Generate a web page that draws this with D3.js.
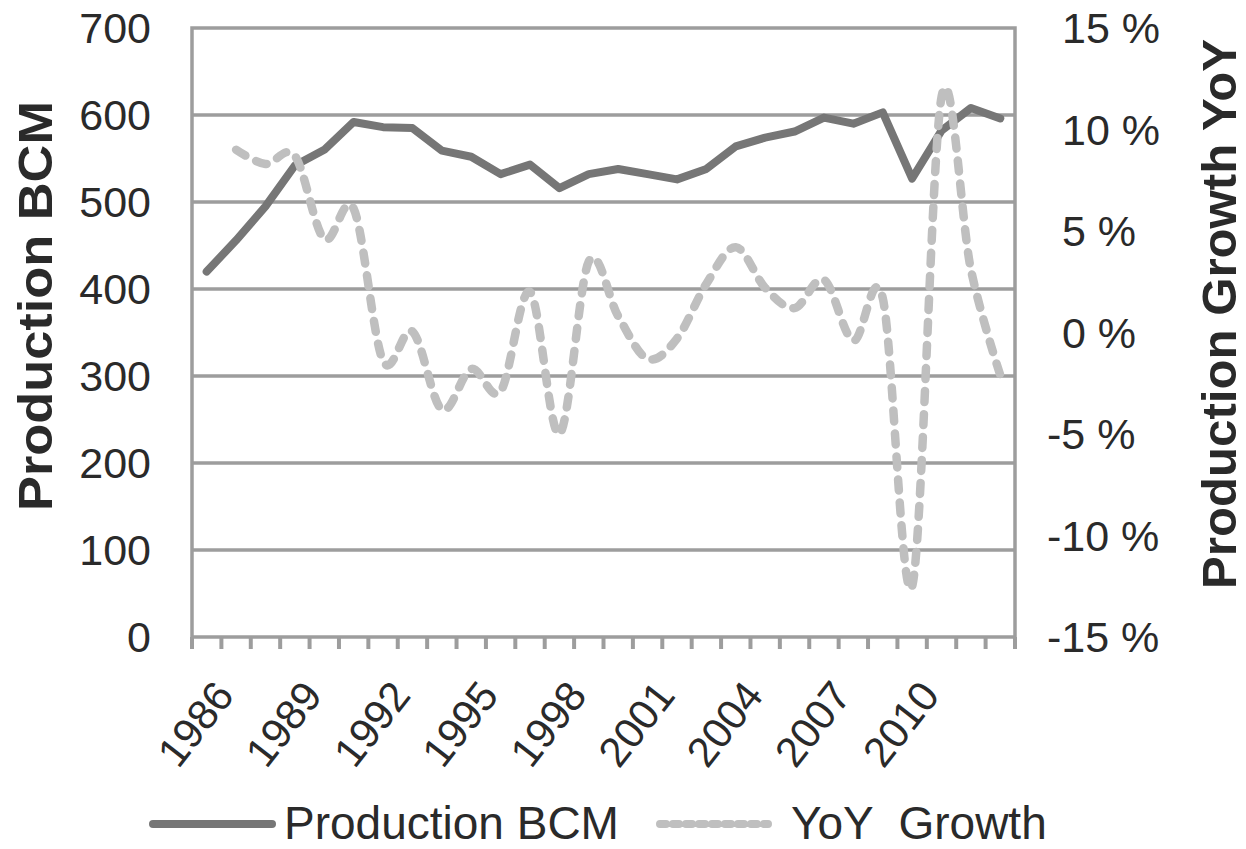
<!DOCTYPE html>
<html>
<head>
<meta charset="utf-8">
<script src="https://cdn.jsdelivr.net/npm/d3@7"></script>
<style>
  body { margin: 0; background: #fff; }
  svg { display: block; font-family: "Liberation Sans", Arial, sans-serif; }
</style>
</head>
<body>
<div id="chart"></div>
<script>
// dados
const years = d3.range(1986, 2014);
const production = [420, 456, 495, 542, 560, 592, 586, 585, 559, 552, 532, 543, 516, 532,
                    538, 532, 526, 538, 564, 574, 581, 597, 590, 603, 527, 582, 608, 596];
const yoyGrowth = [null, 9.0, 8.3, 8.7, 4.6, 6.1, -1.4, 0.05, -3.8, -1.8, -2.9, 2.0, -5.0, 3.5,
                   0.8, -1.3, -0.3, 2.4, 4.2, 2.2, 1.2, 2.6, -0.4, 1.7, -12.5, 11.6, 3.1, -2.1];
const xLabels = [1986, 1989, 1992, 1995, 1998, 2001, 2004, 2007, 2010];
const leftTicks = [0, 100, 200, 300, 400, 500, 600, 700];
const rightTicks = [-15, -10, -5, 0, 5, 10, 15];

const width = 1246, height = 849;
const plotL = 192, plotR = 1015, plotT = 28, plotB = 637;

const svg = d3.select("#chart").append("svg")
    .attr("width", width)
    .attr("height", height);

const x = d3.scaleBand().domain(years).range([plotL, plotR]);
const cx = d => x(d) + x.bandwidth() / 2;
const yL = d3.scaleLinear().domain([0, 700]).range([plotB, plotT]);
const yR = d3.scaleLinear().domain([-15, 15]).range([plotB, plotT]);

const gridColor = "#9d9d9d";
const textColor = "#2a2a2a";

// linhas de grade
svg.append("g")
    .selectAll("line")
    .data(leftTicks.slice(1, -1))
    .join("line")
    .attr("x1", plotL).attr("x2", plotR)
    .attr("y1", d => yL(d)).attr("y2", d => yL(d))
    .attr("stroke", gridColor)
    .attr("stroke-width", 3.5);

// moldura
svg.append("rect")
    .attr("x", plotL).attr("y", plotT)
    .attr("width", plotR - plotL).attr("height", plotB - plotT)
    .attr("fill", "none")
    .attr("stroke", gridColor)
    .attr("stroke-width", 3.5);

// marcas do eixo x (nos limites das categorias)
const bounds = years.map(d => x(d)).concat([plotR]);
svg.append("g")
    .selectAll("line")
    .data(bounds)
    .join("line")
    .attr("x1", d => d).attr("x2", d => d)
    .attr("y1", plotB).attr("y2", plotB + 12)
    .attr("stroke", gridColor)
    .attr("stroke-width", 4);

// rótulos do eixo esquerdo
svg.append("g")
    .selectAll("text")
    .data(leftTicks)
    .join("text")
    .attr("x", 151)
    .attr("y", d => yL(d))
    .attr("dy", "0.36em")
    .attr("text-anchor", "end")
    .attr("font-size", 43)
    .attr("fill", textColor)
    .text(d => d);

// rótulos do eixo direito
svg.append("g")
    .selectAll("text")
    .data(rightTicks)
    .join("text")
    .attr("x", d => d >= 0 ? 1062 : 1047)
    .attr("y", d => yR(d))
    .attr("dy", "0.36em")
    .attr("font-size", 43)
    .attr("fill", textColor)
    .text(d => d + " %");

// rótulos do eixo x, girados
svg.append("g")
    .selectAll("text")
    .data(xLabels)
    .join("text")
    .attr("transform", d => `translate(${cx(d) + 29},${plotB + 59}) rotate(-52)`)
    .attr("text-anchor", "end")
    .attr("font-size", 42)
    .attr("fill", textColor)
    .text(d => d);

// títulos dos eixos
svg.append("text")
    .attr("transform", `translate(52,306) rotate(-90)`)
    .attr("text-anchor", "middle")
    .attr("font-size", 49)
    .attr("font-weight", "bold")
    .attr("textLength", 410)
    .attr("lengthAdjust", "spacingAndGlyphs")
    .attr("fill", textColor)
    .text("Production BCM");

svg.append("text")
    .attr("transform", `translate(1236,314) rotate(-90)`)
    .attr("text-anchor", "middle")
    .attr("font-size", 48)
    .attr("font-weight", "bold")
    .attr("textLength", 550)
    .attr("lengthAdjust", "spacingAndGlyphs")
    .attr("fill", textColor)
    .text("Production Growth YoY");

// série de produção
const prodLine = d3.line()
    .x((d, i) => cx(years[i]))
    .y(d => yL(d));

svg.append("path")
    .datum(production)
    .attr("d", prodLine)
    .attr("fill", "none")
    .attr("stroke", "#767676")
    .attr("stroke-width", 8)
    .attr("stroke-linejoin", "round")
    .attr("stroke-linecap", "round");

// série de crescimento anual (suavizada, tracejada)
const yoyLine = d3.line()
    .defined(d => d != null)
    .x((d, i) => cx(years[i]))
    .y(d => yR(d))
    .curve(d3.curveCardinal.tension(0));

svg.append("path")
    .datum(yoyGrowth)
    .attr("d", yoyLine)
    .attr("fill", "none")
    .attr("stroke", "#bfbfbf")
    .attr("stroke-width", 8.5)
    .attr("stroke-dasharray", "11,12")
    .attr("stroke-linecap", "round");

// legenda
const legend = svg.append("g");
legend.append("line")
    .attr("x1", 153).attr("x2", 272)
    .attr("y1", 824).attr("y2", 824)
    .attr("stroke", "#767676")
    .attr("stroke-width", 8)
    .attr("stroke-linecap", "round");
legend.append("text")
    .attr("x", 284).attr("y", 839)
    .attr("font-size", 46)
    .attr("fill", textColor)
    .text("Production BCM");
legend.append("line")
    .attr("x1", 660).attr("x2", 768)
    .attr("y1", 824).attr("y2", 824)
    .attr("stroke", "#bfbfbf")
    .attr("stroke-width", 8)
    .attr("stroke-dasharray", "6,7")
    .attr("stroke-linecap", "round");
legend.append("text")
    .attr("x", 791).attr("y", 839)
    .attr("font-size", 46)
    .attr("fill", textColor)
    .style("white-space", "pre")
    .text("YoY  Growth");
</script>
</body>
</html>
